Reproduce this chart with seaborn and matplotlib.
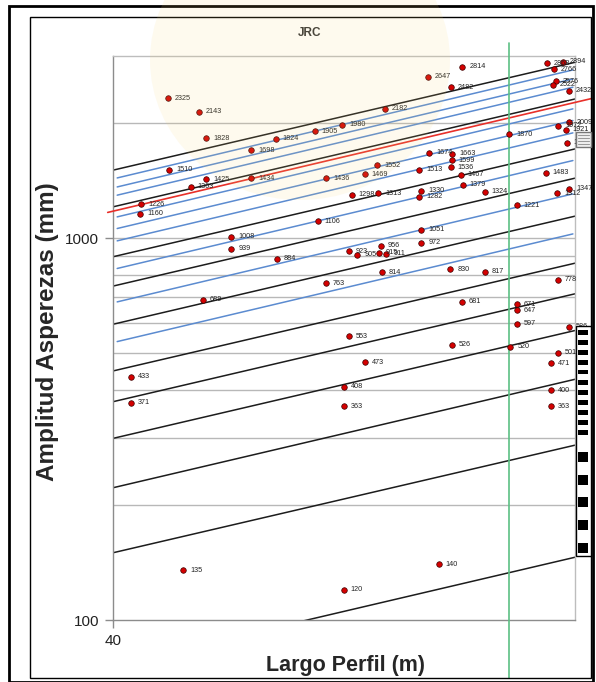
import matplotlib
matplotlib.use("Agg")
import matplotlib.pyplot as plt
import matplotlib.ticker as mticker
from matplotlib.patches import Rectangle, Ellipse
import pandas as pd
import seaborn as sns

# Puntos medidos: largo de perfil (m) y amplitud de asperezas (mm)
largo = [45.6, 49.1, 49.9, 55.6, 58.9, 64.6, 45.7, 49.9, 55.6, 48.1, 42.8, 42.7,
         66.4, 65.1, 91.8, 84.5, 89.3, 76.4, 69.0, 84.8, 89.6, 89.5, 75.0, 82.9,
         89.3, 72.8, 91.4, 91.9, 70.6, 75.2, 83.3, 82.9, 96.8, 112.2, 116.5, 114.1,
         114.7, 113.9, 118.2, 102.6, 115.3, 118.4, 117.4, 117.7, 111.9, 104.5, 115.0,
         118.4, 83.3, 75.6, 83.3, 70.1, 71.5, 75.3, 76.6, 75.8, 89.2, 96.9, 53.0,
         53.0, 59.1, 66.4, 49.5, 41.7, 41.7, 47.3, 69.2, 86.8, 69.3, 69.2, 113.3,
         113.3, 70.1, 89.5, 102.9, 72.8, 91.7, 104.5, 104.5, 104.5, 118.3, 115.3,
         113.3, 115.3]
amplitud = [2325, 2143, 1828, 1698, 1824, 1905, 1510, 1425, 1434, 1363, 1226, 1160,
            1436, 1106, 2814, 2647, 2482, 2182, 1980, 1674, 1663, 1599, 1552, 1513,
            1536, 1469, 1467, 1379, 1298, 1313, 1330, 1282, 1324, 2868, 2894, 2766,
            2576, 2522, 2432, 1870, 1972, 2009, 1921, 1776, 1483, 1221, 1312,
            1347, 1051, 956, 972, 923, 905, 915, 911, 814, 830, 817, 1008,
            939, 884, 763, 689, 433, 371, 135, 120, 140, 408, 363, 400,
            363, 553, 526, 520, 473, 681, 671, 647, 597, 586, 501,
            471, 778]

# Curvas de referencia: amplitud en el extremo izquierdo (40 m) y derecho (120 m)
negras_ini = [1507, 1208, 894, 749, 595, 449, 373, 299, 222, 150, 76]
negras_fin = [2888, 2315, 1713, 1436, 1142, 860, 715, 573, 427, 287, 146]
azules_ini = [1438, 1362, 1296, 1137, 1060, 984, 833, 681, 536]
azules_fin = [2758, 2612, 2485, 2181, 2033, 1887, 1597, 1306, 1026]
roja_x = [39.5, 124.8]
roja_y = [1168, 2321]
verde_x = 102.6

W, H = 596, 682


def fx(px):
    return px / W


def fy(py):
    return 1 - py / H


# tabla larga para las curvas
filas = []
for i, (a, b) in enumerate(zip(negras_ini, negras_fin)):
    filas += [("n%d" % i, "negra", 40, a), ("n%d" % i, "negra", 120, b)]
for i, (a, b) in enumerate(zip(azules_ini, azules_fin)):
    filas += [("a%d" % i, "azul", 40.4, a), ("a%d" % i, "azul", 119.4, b)]
curvas = pd.DataFrame(filas, columns=["linea", "tipo", "x", "y"])
puntos = pd.DataFrame({"largo": largo, "amplitud": amplitud})

sns.set_style("white")
plt.rcParams["font.family"] = ["Liberation Sans", "DejaVu Sans"]

fig = plt.figure(figsize=(W / 100, H / 100), dpi=100)
ax = fig.add_axes([fx(113), fy(620), 462 / W, 564 / H])
ax.set_xscale("log")
ax.set_yscale("log")
ax.set_xlim(40, 120)
ax.set_ylim(100, 3000)

# grilla horizontal
for v in [200, 300, 400, 500, 600, 700, 800, 900, 1000, 2000]:
    ax.axhline(v, color="#b8b8b8", lw=1, zorder=0)

sns.lineplot(data=curvas, x="x", y="y", units="linea", hue="tipo", estimator=None,
             palette={"negra": "#1c1c1c", "azul": "#5b8bd0"}, lw=1.1, legend=False,
             sort=False, ax=ax, zorder=2)
sns.lineplot(x=roja_x, y=roja_y, color="#e8302a", lw=1.2, ax=ax, clip_on=False, zorder=3)
ax.axvline(verde_x, ymin=-0.103, ymax=1.023, color="#5cc084", lw=1.2, clip_on=False, zorder=3)

sns.scatterplot(data=puntos, x="largo", y="amplitud", s=16, color="#d40000",
                edgecolor="#3a0000", linewidth=0.5, ax=ax, zorder=4)
for xv, yv in zip(largo, amplitud):
    ax.annotate(str(yv), (xv, yv), xytext=(5, 0), textcoords="offset points",
                fontsize=5.2, va="center", color="#222222", zorder=5)

# ejes
ax.yaxis.set_major_locator(mticker.FixedLocator([100, 1000]))
ax.yaxis.set_major_formatter(mticker.FixedFormatter(["100", "1000"]))
ax.yaxis.set_minor_locator(mticker.NullLocator())
ax.xaxis.set_major_locator(mticker.FixedLocator([40]))
ax.xaxis.set_major_formatter(mticker.FixedFormatter(["40"]))
ax.xaxis.set_minor_locator(mticker.NullLocator())
ax.tick_params(axis="both", which="major", length=6, width=1, color="#8c8c8c",
               labelsize=11, labelcolor="#222222", pad=4, left=True, bottom=True)
for s in ["left", "bottom"]:
    ax.spines[s].set_color("#8c8c8c")
for s in ["top", "right"]:
    ax.spines[s].set_color("#bdbdbd")
for s in ax.spines.values():
    s.set_linewidth(1)

ax.set_xlabel("Largo Perfil (m)", fontsize=15.5, fontweight="bold", va="center")
ax.set_ylabel("Amplitud Asperezas (mm)", fontsize=17.5, fontweight="bold", va="center")
ax.xaxis.set_label_coords((345 - 113) / 462, (620 - 665) / 564)
ax.yaxis.set_label_coords((48 - 113) / 462, (620 - 332) / 564)

fig.text(fx(310), fy(33), "JRC", fontsize=8.5, fontweight="bold", color="#333333",
         ha="center", va="center")

# marcos
fig.add_artist(Rectangle((fx(9), fy(682)), fx(584), 676 / H, transform=fig.transFigure,
                         fill=False, ec="black", lw=2))
fig.add_artist(Rectangle((fx(30), fy(678)), fx(561), 661 / H, transform=fig.transFigure,
                         fill=False, ec="black", lw=1))

# restos de leyenda a la derecha
fig.add_artist(Rectangle((fx(576), fy(556)), fx(15), 230 / H, transform=fig.transFigure,
                         fill=True, fc="white", ec="black", lw=1, zorder=6))
for py in range(330, 440, 10):
    fig.add_artist(Rectangle((fx(578), fy(py + 4.5)), fx(10), 4.5 / H, transform=fig.transFigure,
                             fc="black", ec="none", zorder=7))
for k in range(5):
    py = 452 + 22.7 * k
    fig.add_artist(Rectangle((fx(578), fy(py + 10)), fx(10), 10 / H, transform=fig.transFigure,
                             fc="black", ec="none", zorder=7))
fig.add_artist(Rectangle((fx(576), fy(147)), fx(15), 15 / H, transform=fig.transFigure,
                         fc="#f2f2f2", ec="#777777", lw=1, zorder=6))
for py in [135, 138, 141, 144]:
    fig.add_artist(plt.Line2D([fx(578), fx(589)], [fy(py), fy(py)], transform=fig.transFigure,
                              color="#999999", lw=0.8, zorder=7))

# marca de agua tenue
fig.add_artist(Ellipse((fx(300), fy(60)), fx(300), 280 / H, transform=fig.transFigure,
                       fc="#f7d77a", ec="none", alpha=0.12, zorder=8))

fig.savefig("out.png", dpi=100)
